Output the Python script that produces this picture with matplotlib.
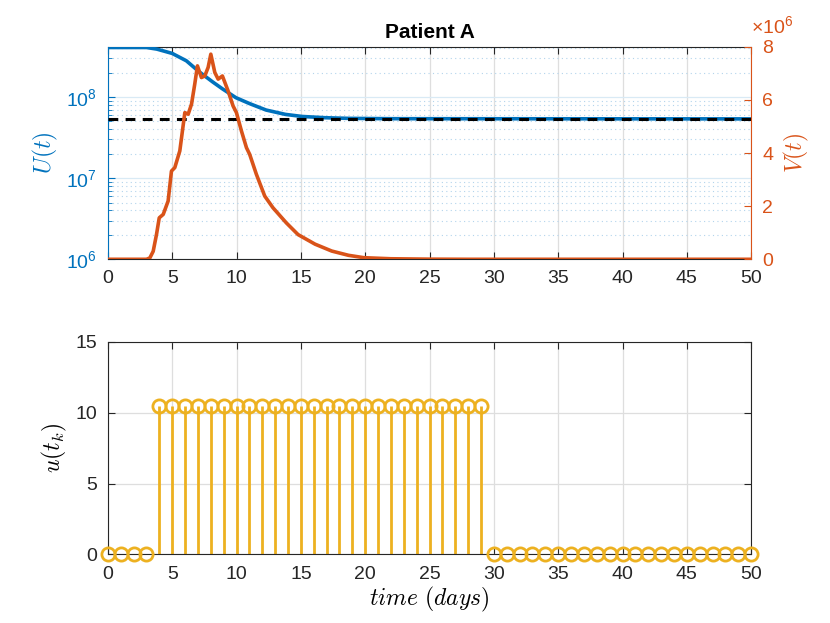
import numpy as np
import matplotlib
matplotlib.use("Agg")
import matplotlib.pyplot as plt
from matplotlib.ticker import FixedLocator, FixedFormatter, LogLocator, NullFormatter

plt.rcParams['font.family'] = ['Liberation Sans', 'DejaVu Sans']
plt.rcParams['mathtext.fontset'] = 'cm'

# ---- data ----
U_t = [0, 3.0, 3.8, 5.0, 6.1, 7.1, 8.15, 8.9, 9.95, 11.0, 12.3, 13.8, 15.1, 16.9, 18.7, 22.0, 50.0]
U_vals = [4.07e8, 4.07e8, 3.89e8, 3.44e8, 2.79e8, 2.04e8, 1.53e8, 1.26e8, 9.8e7, 8.3e7,
          6.9e7, 6.1e7, 5.75e7, 5.55e7, 5.45e7, 5.40e7, 5.37e7]
U_eq = 5.4e7

V_t = [0, 3.0, 3.26, 3.52, 3.78, 3.99, 4.3, 4.68, 4.94, 5.2, 5.59, 5.98, 6.24, 6.5, 6.75, 6.96,
       7.27, 7.53, 7.79, 8.0, 8.31, 8.57, 8.9, 9.34, 9.73, 9.99, 10.38, 10.77, 11.02, 11.54,
       12.19, 12.83, 13.87, 14.78, 16.1, 17.4, 18.7, 19.9, 22.0, 25.0, 28.0, 50.0]
V_vals = [0, 0, 0.05, 0.3, 0.94, 1.56, 1.69, 2.19, 3.32, 3.45, 4.08, 5.52, 5.46, 5.84, 6.59, 7.28,
          6.84, 6.9, 7.22, 7.72, 7.03, 6.78, 6.9, 6.34, 5.77, 5.52, 4.83, 4.2, 3.95, 3.2,
          2.38, 1.94, 1.37, 0.93, 0.57, 0.31, 0.15, 0.06, 0.02, 0.005, 0, 0]
V_vals = [v * 1e6 for v in V_vals]

k_t = list(range(0, 51))
u_k = [0, 0, 0, 0] + [10.5] * 26 + [0] * 21

xticks = list(range(0, 51, 5))

blue = '#0072BD'
orange = '#D95319'
yellow = '#EDB120'
dark = '#262626'
gridgray = '#dedede'
bluegrid = '#d9eaf5'
bluedot = '#b3d4ec'

fig = plt.figure(figsize=(8.3, 6.23), dpi=100)

# ---- top plot ----
ax = fig.add_axes([0.13, 0.5838, 0.775, 0.3412])
ax.set_yscale('log')
ax.plot(U_t, U_vals, color=blue, lw=2.6, zorder=3)
ax.plot([0, 50], [U_eq, U_eq], color='k', lw=2.2, ls=(0, (3.2, 2.4)), zorder=4)
ax.set_xlim(0, 50)
ax.set_ylim(1e6, 4.16e8)
ax.yaxis.set_major_locator(FixedLocator([1e6, 1e7, 1e8]))
ax.yaxis.set_major_formatter(FixedFormatter([r'$\mathregular{10^{6}}$', r'$\mathregular{10^{7}}$', r'$\mathregular{10^{8}}$']))
ax.yaxis.set_minor_locator(LogLocator(base=10, subs=np.arange(2, 10)))
ax.yaxis.set_minor_formatter(NullFormatter())
ax.set_xticks(xticks)
ax.tick_params(axis='both', which='both', direction='in', labelsize=14, pad=8)
ax.tick_params(axis='x', top=True, colors=dark, length=5)
ax.tick_params(axis='y', which='major', colors=blue, length=5)
ax.tick_params(axis='y', which='minor', colors=blue, length=3)
ax.grid(True, axis='x', color=gridgray, lw=0.9)
ax.grid(True, axis='y', which='major', color=bluegrid, lw=0.9)
ax.grid(True, axis='y', which='minor', color=bluedot, lw=0.8, ls=(0, (1, 3)))
ax.set_ylabel(r'$U(t)$', color=blue, fontsize=17)
ax.spines['left'].set_color(blue)
ax.spines['top'].set_color(dark)
ax.spines['bottom'].set_color(dark)
ax.spines['right'].set_visible(False)
ax.set_title('Patient A', fontsize=15, fontweight='bold', pad=6)

ax2 = ax.twinx()
ax2.plot(V_t, V_vals, color=orange, lw=2.6, zorder=3)
ax2.set_ylim(0, 8e6)
ax2.set_yticks([0, 2e6, 4e6, 6e6, 8e6])
ax2.set_yticklabels(['0', '2', '4', '6', '8'])
ax2.tick_params(axis='y', direction='in', colors=orange, labelsize=14, length=5, pad=8)
ax2.spines['right'].set_color(orange)
ax2.spines['left'].set_visible(False)
ax2.spines['top'].set_visible(False)
ax2.spines['bottom'].set_visible(False)
ax2.set_ylabel(r'$V(t)$', color=orange, fontsize=17, labelpad=6)
ax2.text(1.0, 1.065, r'$\mathregular{\times10^{6}}$', transform=ax2.transAxes,
         ha='left', va='baseline', color=orange, fontsize=14)

# ---- bottom plot ----
bx = fig.add_axes([0.13, 0.11, 0.775, 0.3412])
markerline, stemlines, baseline = bx.stem(k_t, u_k, linefmt='-', markerfmt='o', basefmt=' ')
plt.setp(stemlines, color=yellow, lw=2.0)
plt.setp(markerline, markerfacecolor='none', markeredgecolor=yellow, markersize=9.5, markeredgewidth=2.0)
markerline.set_clip_on(False)
markerline.set_zorder(4)
bx.set_xlim(0, 50)
bx.set_ylim(0, 15)
bx.set_xticks(xticks)
bx.set_yticks([0, 5, 10, 15])
bx.tick_params(axis='both', direction='in', labelsize=14, colors=dark, length=5, top=True, right=True, pad=8)
bx.grid(True, color=gridgray, lw=0.9)
bx.set_axisbelow(True)
for s in bx.spines.values():
    s.set_color(dark)
bx.set_xlabel(r'$time\ (days)$', fontsize=17, labelpad=2)
bx.set_ylabel(r'$u(t_k)$', fontsize=17)

fig.savefig('out.png', dpi=100)
